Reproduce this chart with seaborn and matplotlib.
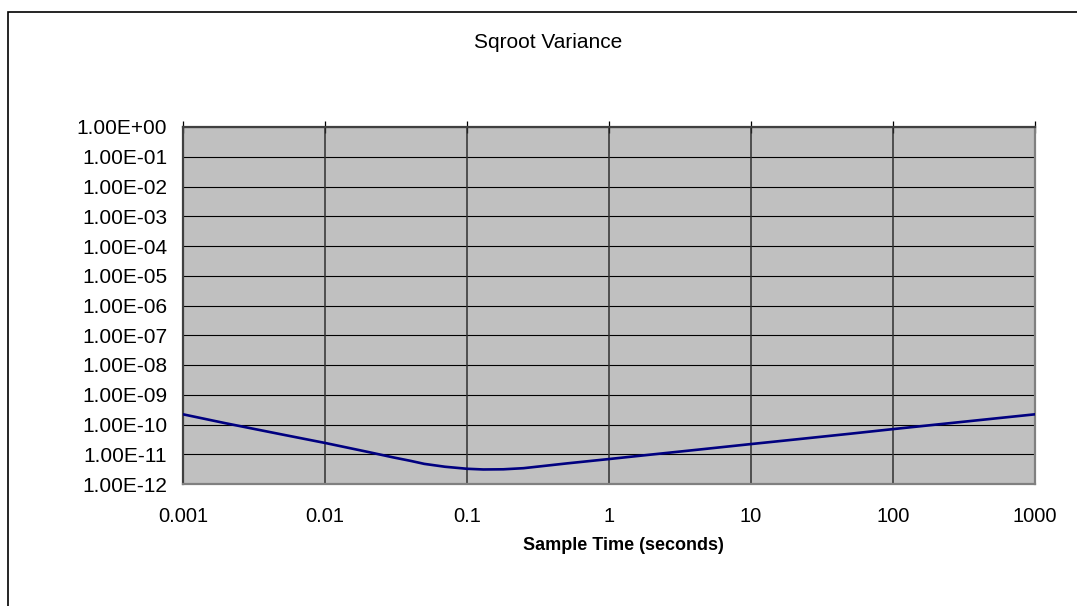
import matplotlib
matplotlib.use("Agg")
import matplotlib.pyplot as plt
from matplotlib.patches import Rectangle
from matplotlib.ticker import FixedLocator, FuncFormatter, NullLocator
import seaborn as sns
import pandas as pd

# Sample time (s) and the square root of the variance at each time
sample_time = [0.001, 0.002, 0.005, 0.01, 0.02, 0.03, 0.04, 0.05, 0.07, 0.1,
               0.13, 0.18, 0.25, 0.5, 1, 2, 5, 10, 20, 50, 100, 200, 500, 1000]
sqroot_variance = [2.2e-10, 1.1e-10, 4.6e-11, 2.4e-11, 1.2e-11, 7.9e-12, 6.0e-12,
                   4.75e-12, 3.8e-12, 3.25e-12, 3.08e-12, 3.12e-12, 3.4e-12,
                   4.9e-12, 6.9e-12, 9.8e-12, 1.55e-11, 2.2e-11, 3.1e-11,
                   4.9e-11, 7.0e-11, 9.9e-11, 1.56e-10, 2.2e-10]

x_ticks = [0.001, 0.01, 0.1, 1, 10, 100, 1000]
y_ticks = [1e-12, 1e-11, 1e-10, 1e-9, 1e-8, 1e-7, 1e-6, 1e-5, 1e-4, 1e-3, 1e-2, 1e-1, 1e0]

title = "Sqroot Variance"
x_label = "Sample Time (seconds)"

sns.set_style("white")
plt.rcParams["font.family"] = ["Liberation Sans", "DejaVu Sans"]

W, H = 1077, 606
fig = plt.figure(figsize=(W / 100, H / 100), dpi=100)

# outer chart frame (runs off the right and bottom edges)
fig.patches.append(Rectangle((8 / W, -0.1), 1.2, 1 - 12 / H + 0.1,
                             transform=fig.transFigure, fill=False,
                             edgecolor="black", linewidth=1.2, zorder=0))

left, right, top, bottom = 183 / W, 1035 / W, 1 - 127 / H, 1 - 484 / H
ax = fig.add_axes([left, bottom, right - left, top - bottom])
ax.set_facecolor("#C0C0C0")

df = pd.DataFrame({"time": sample_time, "sigma": sqroot_variance})
sns.lineplot(data=df, x="time", y="sigma", ax=ax, color="#000080",
             linewidth=1.9, zorder=5)

ax.set_xscale("log")
ax.set_yscale("log")
ax.set_xlim(x_ticks[0], x_ticks[-1])
ax.set_ylim(y_ticks[0], y_ticks[-1])

ax.xaxis.set_major_locator(FixedLocator(x_ticks))
ax.yaxis.set_major_locator(FixedLocator(y_ticks))
ax.xaxis.set_minor_locator(NullLocator())
ax.yaxis.set_minor_locator(NullLocator())
ax.xaxis.set_major_formatter(FuncFormatter(lambda v, _: f"{v:g}"))
ax.yaxis.set_major_formatter(FuncFormatter(lambda v, _: f"{v:.2E}"))

# gridlines
for yv in y_ticks:
    ax.axhline(yv, color="black", linewidth=0.8, zorder=1)
for xv in x_ticks:
    ax.axvline(xv, color="#303030", linewidth=1.1, zorder=1)

for side in ["right", "bottom"]:
    ax.spines[side].set_color("#808080")
    ax.spines[side].set_linewidth(1.6)
for side in ["left", "top"]:
    ax.spines[side].set_color("#404040")
    ax.spines[side].set_linewidth(1.6)

ax.tick_params(axis="y", direction="inout", length=9, width=0.9, color="black",
               labelsize=15, pad=7, labelcolor="black")
ax.tick_params(axis="x", bottom=False, top=True, labelbottom=True, labeltop=False,
               direction="inout", length=9, width=0.9, color="black",
               labelsize=14.5, pad=12, labelcolor="black")

ax.set_xlabel("")
ax.set_ylabel("")
fig.text(623 / W, 1 - 546 / H, x_label, ha="center", va="center",
         fontsize=13, fontweight="bold", color="black")
fig.text(548 / W, 1 - 42 / H, title, ha="center", va="center",
         fontsize=15, color="black")

fig.savefig("out.png", dpi=100)
